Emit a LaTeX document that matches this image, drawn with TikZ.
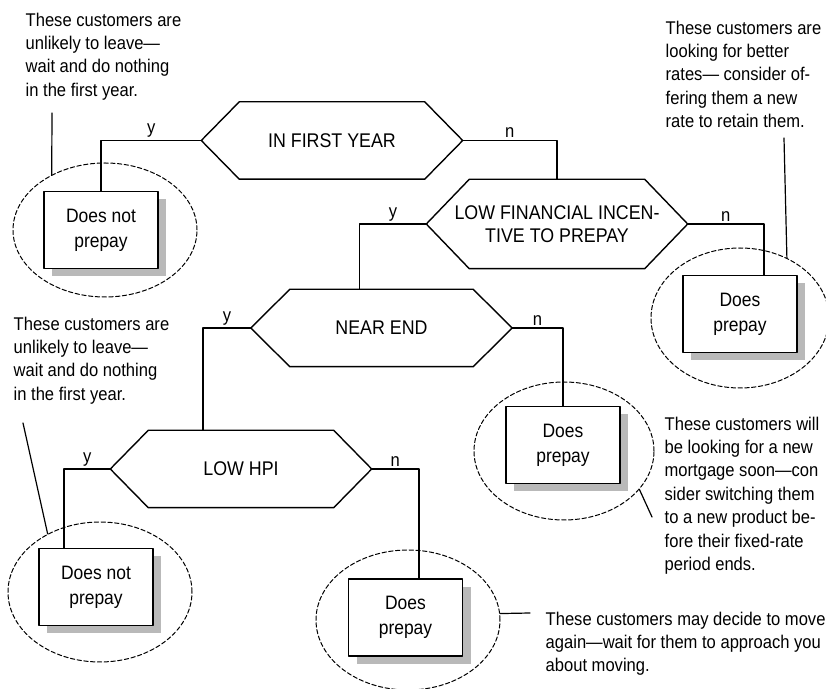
\documentclass[tikz,border=0pt]{standalone}
\usepackage{fontspec}
\setmainfont{Liberation Sans}[FakeStretch=0.9]
\usetikzlibrary{shapes.geometric,shadows}
\begin{document}
\begin{tikzpicture}[x=0.5pt,y=-0.5pt,line join=round,line cap=round,line width=0.7pt,
	note/.style={align=left,anchor=north west,inner sep=0pt,font=\fontsize{9.2}{11.7}\selectfont},
	cond/.style={minimum width=130pt,minimum height=38pt,inner sep=0pt,align=center,font=\fontsize{9.9}{11.5}\selectfont},
	leaf/.style={draw,fill=white,minimum width=57pt,minimum height=38.5pt,inner sep=0pt,align=center,font=\fontsize{9.7}{12.5}\selectfont,
		drop shadow={shadow xshift=4pt,shadow yshift=-4pt,fill=gray!55,opacity=1}},
	bubble/.style={ellipse,draw,line width=0.5pt,dash pattern=on 2.2pt off 1.2pt,inner sep=0pt},
	yn/.style={above,inner sep=1pt,font=\fontsize{9.2}{11}\selectfont}]
	\useasboundingbox (0,0) rectangle (826,689);
	% decisions
	\node[cond] (h1) at (332,140.5) {IN FIRST YEAR};
	\node[cond,minimum height=44pt] (h2) at (557,224) {LOW FINANCIAL INCEN-\\TIVE TO PREPAY};
	\node[cond] (h3) at (381.5,328) {NEAR END};
	\node[cond] (h4) at (241,469) {LOW HPI};
	\foreach \n/\d in {h1/19pt,h2/21.5pt,h3/19.5pt,h4/19pt}
	\draw (\n.west) -- ([xshift=\d]\n.north west) -- ([xshift=-\d]\n.north east) -- (\n.east) -- ([xshift=-\d]\n.south east) -- ([xshift=\d]\n.south west) -- cycle;
	% groups
	\node[bubble,minimum width=92pt,minimum height=67pt] (e1) at (105,230) {};
	\node[bubble,minimum width=89pt,minimum height=70pt] (e2) at (740,318) {};
	\node[bubble,minimum width=90pt,minimum height=69pt] (e3) at (564,451) {};
	\node[bubble,minimum width=92pt,minimum height=70pt] (e4) at (100,592) {};
	\node[bubble,minimum width=92pt,minimum height=70pt] (e5) at (408,620) {};
	% outcomes
	\node[leaf] (b1) at (101,230) {Does not\\prepay};
	\node[leaf] (b2) at (740,314) {Does\\prepay};
	\node[leaf] (b3) at (563,445) {Does\\prepay};
	\node[leaf] (b4) at (96,587) {Does not\\prepay};
	\node[leaf] (b5) at (405.5,617.5) {Does\\prepay};
	% branches
	\draw (h1.west) -| node[yn,pos=.25]{y} (b1.north);
	\draw (h1.east) -| node[yn,pos=.25]{n} (h2.north);
	\draw (h2.west) -| node[yn,pos=.25]{y} ([xshift=-11pt]h3.north);
	\draw (h2.east) -| node[yn,pos=.25]{n} ([xshift=12pt]b2.north);
	\draw (h3.west) -| node[yn,pos=.25]{y} ([xshift=-19pt]h4.north);
	\draw (h3.east) -| node[yn,pos=.25]{n} (b3.north);
	\draw (h4.west) -| node[yn,pos=.25]{y} ([xshift=-16pt]b4.north);
	\draw (h4.east) -| node[yn,pos=.25]{n} ([xshift=6.75pt]b5.north);
	% notes
	\node[note] (t1) at (25,12) {These customers are\\unlikely to leave—\\wait and do nothing\\in the first year.};
	\node[note] (t2) at (665,20) {These customers are\\looking for better\\rates— consider of-\\fering them a new\\rate to retain them.};
	\node[note] (t3) at (13,316) {These customers are\\unlikely to leave—\\wait and do nothing\\in the first year.};
	\node[note] (t4) at (664,416) {These customers will\\be looking for a new\\mortgage soon—con\\sider switching them\\to a new product be-\\fore their fixed-rate\\period ends.};
	\node[note] (t5) at (545,611) {These customers may decide to move\\again—wait for them to approach you\\about moving.};
	\coordinate (c1) at (52,113);
	\coordinate (c2) at (784,138);
	\coordinate (c3) at (23,423);
	\coordinate (c4) at (652,517);
	\coordinate (c5) at (530,613);
	\draw[line width=0.6pt] (c1) -- (e1.134);
	\draw[line width=0.6pt] (c2) -- (e2.52);
	\draw[line width=0.6pt] (c3) -- (e4.132);
	\draw[line width=0.6pt] (c4) -- (e3.-27);
	\draw[line width=0.6pt] (e5.4) -- (c5);
\end{tikzpicture}
\end{document}
